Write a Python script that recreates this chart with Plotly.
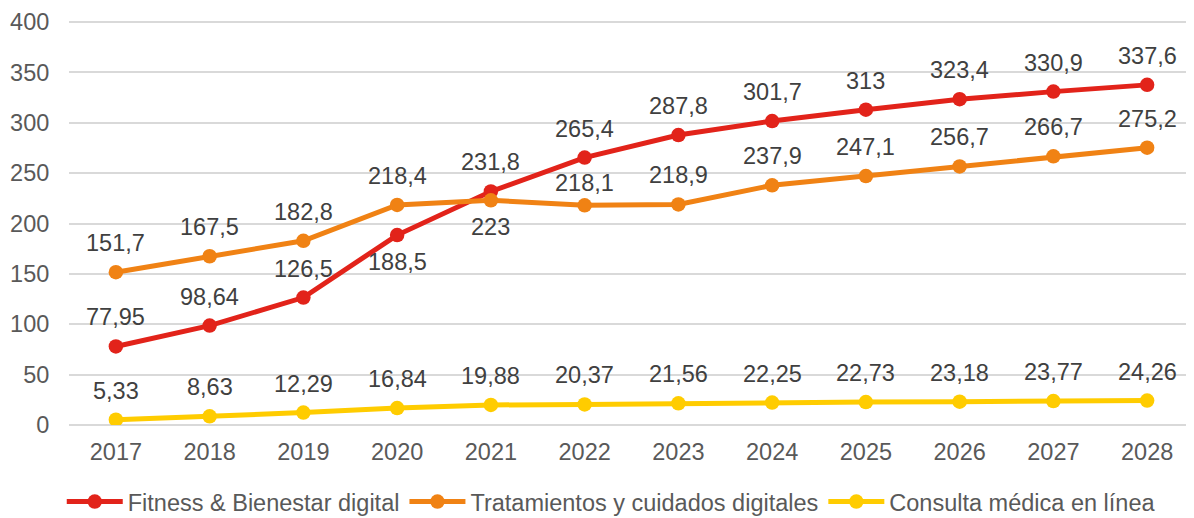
import plotly.graph_objects as go

years = ["2017", "2018", "2019", "2020", "2021", "2022", "2023", "2024", "2025", "2026", "2027", "2028"]
fitness = [77.95, 98.64, 126.5, 188.5, 231.8, 265.4, 287.8, 301.7, 313, 323.4, 330.9, 337.6]
tratamientos = [151.7, 167.5, 182.8, 218.4, 223, 218.1, 218.9, 237.9, 247.1, 256.7, 266.7, 275.2]
consulta = [5.33, 8.63, 12.29, 16.84, 19.88, 20.37, 21.56, 22.25, 22.73, 23.18, 23.77, 24.26]

names = ["Fitness & Bienestar digital", "Tratamientos y cuidados digitales", "Consulta médica en línea"]
colors = ["#E2231A", "#F08214", "#FFCC00"]
# label placement: "a" above, "b" below, "n" near (slightly above)
fitness_side = ["a", "a", "a", "b", "a", "a", "a", "a", "a", "a", "a", "a"]
trat_side = ["a", "a", "a", "a", "b", "n", "a", "a", "a", "a", "a", "a"]
cons_side = ["a"] * 12

SHIFT = {"a": 29, "b": -27, "n": 22}

FONT = "Liberation Sans, Arial, sans-serif"
FS = 23.5


def fmt(v):
    return f"{v:g}".replace(".", ",")


fig = go.Figure()
annotations = []
for name, vals, color, sides in zip(names, [fitness, tratamientos, consulta], colors,
                                    [fitness_side, trat_side, cons_side]):
    fig.add_trace(go.Scatter(
        x=years, y=vals, name=name, mode="lines+markers",
        line=dict(color=color, width=5),
        marker=dict(color=color, size=14.5),
    ))
    for i, (v, s) in enumerate(zip(vals, sides)):
        annotations.append(dict(
            x=i, y=v, xref="x", yref="y", text=fmt(v), showarrow=False,
            yshift=SHIFT[s],
            font=dict(family=FONT, size=FS, color="#404040"),
        ))

# page body has an 8px margin, so the figure is sized/placed to compensate
fig.update_layout(
    width=1186, height=510,
    margin=dict(l=61, r=0, t=13, b=93, autoexpand=False),
    paper_bgcolor="white", plot_bgcolor="white",
    font=dict(family=FONT, size=FS, color="#595959"),
    annotations=annotations,
    showlegend=True,
    legend=dict(
        orientation="h", x=0.482, xanchor="center", y=-0.19, yanchor="middle",
        font=dict(family=FONT, size=FS, color="#595959"),
        itemwidth=56, tracegroupgap=0, itemclick=False,
        traceorder="normal",
    ),
    xaxis=dict(
        type="category", showgrid=False, zeroline=False, showline=False,
        ticks="outside", ticklen=6, tickcolor="rgba(0,0,0,0)",
        tickfont=dict(family=FONT, size=FS, color="#595959"),
        range=[-0.5, 11.5],
    ),
    yaxis=dict(
        range=[0, 401], dtick=50, showgrid=True, gridcolor="#D9D9D9", gridwidth=1.5,
        zeroline=True, zerolinecolor="#D9D9D9", zerolinewidth=1.5, showline=False,
        ticks="outside", ticklen=14, tickcolor="rgba(0,0,0,0)",
        tickfont=dict(family=FONT, size=FS, color="#595959"),
    ),
)

fig.write_html("out.html")
